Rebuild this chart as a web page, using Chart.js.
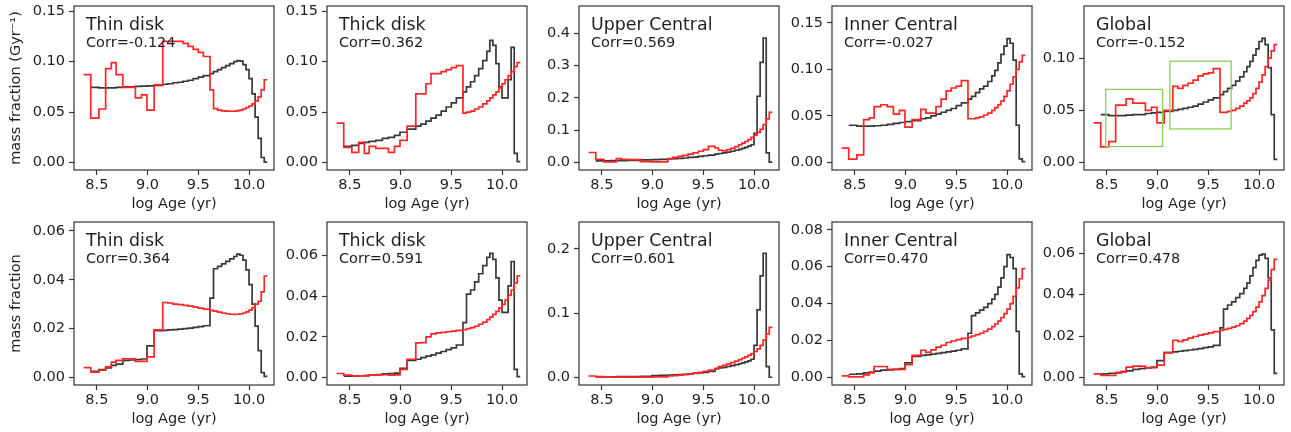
<!DOCTYPE html>
<html>
<head>
<meta charset="utf-8">
<script src="https://cdn.jsdelivr.net/npm/chart.js@4.4.1/dist/chart.umd.min.js"></script>
<style>
  html, body { margin: 0; padding: 0; background: #ffffff; }
  #fig { position: relative; width: 1291px; height: 432px; overflow: hidden; background: #ffffff; }
  #fig canvas { position: absolute; }
</style>
</head>
<body>
<div id="fig"></div>
<script>
// ---- age bins (log age, yr): left edges plus the final right edge ----
const AGE_EDGES = [8.37, 8.44, 8.52, 8.587, 8.643, 8.69, 8.756, 8.82, 8.88, 8.94,
  8.994, 9.065, 9.15, 9.20, 9.25, 9.30, 9.35, 9.40, 9.45, 9.50,
  9.55, 9.615, 9.65, 9.69, 9.73, 9.77, 9.81, 9.85, 9.88, 9.91,
  9.94, 9.97, 10.00, 10.03, 10.06, 10.09, 10.12, 10.15, 10.18];

const X_TICKS = [8.5, 9.0, 9.5, 10.0];
const REGION_NAMES = ['Thin disk', 'Thick disk', 'Upper Central', 'Inner Central', 'Global'];
const CORR_RATE = [-0.124, 0.362, 0.569, -0.027, -0.152];
const CORR_FRACTION = [0.364, 0.591, 0.601, 0.470, 0.478];

// ---- mass fraction per Gyr (upper row) ----
const thinRateRed = [0.087, 0.044, 0.053, 0.093, 0.099, 0.087, 0.0745, 0.0745, 0.064, 0.067,
  0.052, 0.077, 0.120, 0.120, 0.120, 0.120, 0.118, 0.115, 0.112, 0.109,
  0.105, 0.072, 0.0534, 0.052, 0.0512, 0.051, 0.0508, 0.051, 0.0515, 0.052,
  0.053, 0.0545, 0.056, 0.058, 0.061, 0.065, 0.072, 0.082];
const thinRateBlack = [null, 0.0745, 0.074, 0.074, 0.074, 0.0745, 0.075, 0.075, 0.0755, 0.0757,
  0.076, 0.0765, 0.0775, 0.078, 0.079, 0.0795, 0.0805, 0.0815, 0.083, 0.0845,
  0.086, 0.088, 0.090, 0.092, 0.094, 0.096, 0.098, 0.100, 0.101, 0.1005,
  0.097, 0.092, 0.083, 0.068, 0.045, 0.024, 0.005, 0.0005];

const thickRateRed = [0.039, 0.015, 0.010, 0.020, 0.009, 0.016, 0.014, 0.014, 0.010, 0.016,
  0.022, 0.036, 0.068, 0.068, 0.078, 0.088, 0.088, 0.090, 0.092, 0.094,
  0.096, 0.049, 0.050, 0.051, 0.053, 0.055, 0.058, 0.061, 0.064, 0.067,
  0.070, 0.074, 0.078, 0.082, 0.086, 0.090, 0.095, 0.099];
const thickRateBlack = [null, 0.016, 0.017, 0.019, 0.020, 0.021, 0.022, 0.024, 0.025, 0.027,
  0.030, 0.033, 0.036, 0.038, 0.041, 0.044, 0.047, 0.051, 0.055, 0.059,
  0.064, 0.070, 0.075, 0.080, 0.086, 0.093, 0.101, 0.110, 0.121, 0.116,
  0.098, 0.075, 0.064, 0.064, 0.082, 0.114, 0.009, 0.001];

const upperRateRed = [0.031, 0.010, 0.002, 0.002, 0.012, 0.010, 0.009, 0.009, 0.003, 0.003,
  0.002, 0.002, 0.012, 0.016, 0.019, 0.022, 0.026, 0.030, 0.035, 0.040,
  0.050, 0.045, 0.038, 0.036, 0.040, 0.044, 0.049, 0.055, 0.060, 0.065,
  0.071, 0.078, 0.085, 0.093, 0.103, 0.117, 0.135, 0.155];
const upperRateBlack = [null, 0.005, 0.005, 0.006, 0.006, 0.006, 0.007, 0.007, 0.008, 0.008,
  0.009, 0.010, 0.011, 0.012, 0.013, 0.014, 0.016, 0.017, 0.019, 0.021,
  0.023, 0.026, 0.028, 0.030, 0.032, 0.035, 0.038, 0.041, 0.044, 0.047,
  0.051, 0.055, 0.090, 0.205, 0.310, 0.385, 0.030, 0.001];

const innerRateRed = [0.0155, 0.0036, 0.0083, 0.046, 0.048, 0.060, 0.062, 0.060, 0.052, 0.056,
  0.038, 0.046, 0.057, 0.053, 0.053, 0.060, 0.068, 0.077, 0.080, 0.082,
  0.088, 0.047, 0.047, 0.048, 0.049, 0.051, 0.053, 0.056, 0.059, 0.062,
  0.066, 0.071, 0.077, 0.084, 0.092, 0.100, 0.108, 0.115];
const innerRateBlack = [null, 0.040, 0.039, 0.039, 0.039, 0.0395, 0.040, 0.041, 0.042, 0.043,
  0.044, 0.045, 0.047, 0.048, 0.050, 0.052, 0.054, 0.056, 0.058, 0.061,
  0.064, 0.068, 0.071, 0.075, 0.079, 0.082, 0.087, 0.093, 0.099, 0.107,
  0.116, 0.125, 0.133, 0.128, 0.110, 0.040, 0.004, 0.001];

const globalRateRed = [0.038, 0.015, 0.020, 0.055, 0.055, 0.061, 0.057, 0.057, 0.050, 0.053,
  0.038, 0.050, 0.073, 0.071, 0.074, 0.076, 0.079, 0.083, 0.085, 0.086,
  0.090, 0.048, 0.048, 0.049, 0.050, 0.052, 0.054, 0.057, 0.059, 0.062,
  0.066, 0.071, 0.077, 0.084, 0.092, 0.100, 0.107, 0.113];
const globalRateBlack = [null, 0.046, 0.045, 0.045, 0.045, 0.0455, 0.046, 0.046, 0.047, 0.0475,
  0.048, 0.049, 0.050, 0.051, 0.052, 0.053, 0.054, 0.056, 0.058, 0.060,
  0.062, 0.065, 0.068, 0.071, 0.074, 0.078, 0.082, 0.087, 0.092, 0.097,
  0.103, 0.109, 0.116, 0.119, 0.113, 0.091, 0.046, 0.003];

// highlighted age / rate windows in the global panel: [age0, age1, y0, y1]
const GLOBAL_WINDOWS = [[8.489, 9.050, 0.0154, 0.0701], [9.122, 9.725, 0.0322, 0.0971]];

// ---- mass fraction (lower row) ----
const thinFracRed = [0.0041, 0.0022, 0.0030, 0.0044, 0.0063, 0.0070, 0.0077, 0.0077, 0.0066, 0.0066,
  0.0085, 0.0195, 0.0307, 0.0305, 0.0300, 0.0298, 0.0295, 0.0292, 0.0288, 0.0284,
  0.0280, 0.0275, 0.0272, 0.0268, 0.0264, 0.0261, 0.0259, 0.0258, 0.0259, 0.0261,
  0.0264, 0.0269, 0.0276, 0.0286, 0.0300, 0.0312, 0.0350, 0.0415];
const thinFracBlack = [null, 0.0025, 0.0033, 0.0040, 0.0050, 0.0055, 0.0070, 0.0072, 0.0074, 0.0076,
  0.0130, 0.0192, 0.0193, 0.0195, 0.0196, 0.0198, 0.0200, 0.0202, 0.0205, 0.0208,
  0.0212, 0.0325, 0.0445, 0.0455, 0.0465, 0.0475, 0.0485, 0.0495, 0.0505, 0.0500,
  0.0480, 0.0440, 0.0380, 0.0300, 0.0210, 0.0110, 0.0020, 0.0005];

const thickFracRed = [0.0020, 0.0012, 0.0008, 0.0008, 0.0010, 0.0012, 0.0013, 0.0014, 0.0012, 0.0013,
  0.0040, 0.0090, 0.0170, 0.0172, 0.0200, 0.0215, 0.0220, 0.0222, 0.0225, 0.0228,
  0.0232, 0.0235, 0.0240, 0.0245, 0.0252, 0.0262, 0.0272, 0.0285, 0.0297, 0.0310,
  0.0325, 0.0342, 0.0360, 0.0380, 0.0405, 0.0430, 0.0465, 0.0500];
const thickFracBlack = [null, 0.0007, 0.0008, 0.0009, 0.0010, 0.0012, 0.0015, 0.0018, 0.0020, 0.0022,
  0.0045, 0.0085, 0.0090, 0.0098, 0.0105, 0.0112, 0.0120, 0.0128, 0.0137, 0.0146,
  0.0160, 0.0270, 0.0410, 0.0430, 0.0470, 0.0510, 0.0550, 0.0590, 0.0610, 0.0580,
  0.0490, 0.0380, 0.0320, 0.0320, 0.0450, 0.0570, 0.0040, 0.0005];

const upperFracRed = [0.0025, 0.0015, 0.0010, 0.0008, 0.0008, 0.0008, 0.0008, 0.0008, 0.0008, 0.0008,
  0.0010, 0.0012, 0.0025, 0.0030, 0.0038, 0.0046, 0.0056, 0.0068, 0.0082, 0.0098,
  0.0118, 0.0145, 0.0170, 0.0190, 0.0210, 0.0232, 0.0255, 0.0280, 0.0300, 0.0320,
  0.0345, 0.0372, 0.0405, 0.0445, 0.0500, 0.0580, 0.0680, 0.0780];
const upperFracBlack = [null, 0.0010, 0.0012, 0.0013, 0.0014, 0.0015, 0.0016, 0.0017, 0.0018, 0.0019,
  0.0030, 0.0035, 0.0040, 0.0043, 0.0047, 0.0052, 0.0058, 0.0064, 0.0072, 0.0082,
  0.0095, 0.0135, 0.0150, 0.0160, 0.0172, 0.0185, 0.0200, 0.0215, 0.0228, 0.0243,
  0.0260, 0.0285, 0.0500, 0.1050, 0.1580, 0.1930, 0.0170, 0.0005];

const innerFracRed = [0.0009, 0.0004, 0.0004, 0.0015, 0.0025, 0.0060, 0.0060, 0.0045, 0.0045, 0.0045,
  0.0070, 0.0120, 0.0148, 0.0136, 0.0150, 0.0165, 0.0175, 0.0190, 0.0198, 0.0205,
  0.0212, 0.0218, 0.0225, 0.0232, 0.0240, 0.0250, 0.0262, 0.0276, 0.0290, 0.0306,
  0.0325, 0.0346, 0.0370, 0.0400, 0.0440, 0.0485, 0.0535, 0.0590];
const innerFracBlack = [null, 0.0018, 0.0020, 0.0025, 0.0030, 0.0035, 0.0040, 0.0042, 0.0045, 0.0048,
  0.0080, 0.0115, 0.0120, 0.0123, 0.0127, 0.0131, 0.0135, 0.0139, 0.0143, 0.0148,
  0.0155, 0.0240, 0.0335, 0.0350, 0.0365, 0.0380, 0.0400, 0.0425, 0.0450, 0.0490,
  0.0540, 0.0600, 0.0665, 0.0650, 0.0590, 0.0250, 0.0020, 0.0005];

const globalFracRed = [0.0018, 0.0010, 0.0010, 0.0025, 0.0030, 0.0050, 0.0055, 0.0055, 0.0048, 0.0048,
  0.0060, 0.0120, 0.0180, 0.0175, 0.0182, 0.0190, 0.0198, 0.0205, 0.0210, 0.0216,
  0.0222, 0.0228, 0.0232, 0.0237, 0.0243, 0.0250, 0.0260, 0.0272, 0.0285, 0.0300,
  0.0318, 0.0340, 0.0365, 0.0395, 0.0430, 0.0470, 0.0520, 0.0570];
const globalFracBlack = [null, 0.0018, 0.0020, 0.0023, 0.0028, 0.0032, 0.0040, 0.0043, 0.0047, 0.0050,
  0.0082, 0.0120, 0.0124, 0.0127, 0.0130, 0.0133, 0.0136, 0.0140, 0.0144, 0.0148,
  0.0155, 0.0240, 0.0330, 0.0350, 0.0365, 0.0385, 0.0405, 0.0430, 0.0455, 0.0490,
  0.0530, 0.0565, 0.0590, 0.0595, 0.0575, 0.0480, 0.0230, 0.0020];

// ---- axis ranges and ticks ----
const X_MIN = 8.275, X_MAX = 10.246;
const RATE_Y_MAX = [0.155, 0.155, 0.484, 0.168, 0.150];
const FRAC_Y_MAX = [0.0636, 0.0764, 0.2415, 0.0842, 0.075];
const RATE_Y_TICKS = [[0, 0.05, 0.10, 0.15], [0, 0.05, 0.10, 0.15], [0, 0.1, 0.2, 0.3, 0.4], [0, 0.05, 0.10, 0.15], [0, 0.05, 0.10]];
const FRAC_Y_TICKS = [[0, 0.02, 0.04, 0.06], [0, 0.02, 0.04, 0.06], [0, 0.1, 0.2], [0, 0.02, 0.04, 0.06, 0.08], [0, 0.02, 0.04, 0.06]];

const ROWS = [
  { red: [thinRateRed, thickRateRed, upperRateRed, innerRateRed, globalRateRed],
    black: [thinRateBlack, thickRateBlack, upperRateBlack, innerRateBlack, globalRateBlack],
    corr: CORR_RATE, yMax: RATE_Y_MAX, yTicks: RATE_Y_TICKS, yTitle: 'mass fraction (Gyr\u207B\u00B9)' },
  { red: [thinFracRed, thickFracRed, upperFracRed, innerFracRed, globalFracRed],
    black: [thinFracBlack, thickFracBlack, upperFracBlack, innerFracBlack, globalFracBlack],
    corr: CORR_FRACTION, yMax: FRAC_Y_MAX, yTicks: FRAC_Y_TICKS, yTitle: 'mass fraction' }
];

// ---- page geometry ----
const COL_LEFT = [74, 327, 579, 832, 1084];
const ROW_TOP = [6, 222];
const ROW_H = [164, 163];
const BOX_W = 200;
const PAD_L = 74, PAD_T = 6, PAD_R = 8, PAD_B = 46;

const FONT = 'DejaVu Sans';
const TEXT = '#1f1f1f';
const RED = '#ff2525';
const BLACK = '#383838';
const GREEN = '#86cf55';

// step outline: each bin value held from its left edge to the next edge
function stepPoints(values) {
  const pts = [];
  let last = null;
  values.forEach((v, i) => {
    if (v === null) return;
    pts.push({ x: AGE_EDGES[i], y: v });
    last = v;
  });
  pts.push({ x: AGE_EDGES[values.length], y: last });
  return pts;
}

const panelDecor = {
  id: 'panelDecor',
  afterDatasetsDraw(chart, args, opts) {
    const { ctx, chartArea: a, scales: { x, y } } = chart;
    ctx.save();
    (opts.windows || []).forEach(w => {
      const l = x.getPixelForValue(w[0]), r = x.getPixelForValue(w[1]);
      const t = y.getPixelForValue(w[3]), b = y.getPixelForValue(w[2]);
      ctx.strokeStyle = GREEN;
      ctx.lineWidth = 1.3;
      ctx.strokeRect(l, t, r - l, b - t);
    });
    ctx.strokeStyle = '#333333';
    ctx.lineWidth = 1.2;
    ctx.strokeRect(a.left, a.top, a.right - a.left, a.bottom - a.top);
    ctx.fillStyle = TEXT;
    ctx.textAlign = 'left';
    ctx.textBaseline = 'alphabetic';
    ctx.font = '17.4px "' + FONT + '"';
    ctx.fillText(opts.name, a.left + 12, a.top + 24);
    ctx.font = '14.5px "' + FONT + '"';
    ctx.fillText(opts.corr, a.left + 12, a.top + 40.5);
    ctx.restore();
  }
};

const fig = document.getElementById('fig');

ROWS.forEach((row, r) => {
  COL_LEFT.forEach((left, c) => {
    const w = PAD_L + BOX_W + PAD_R;
    const h = PAD_T + ROW_H[r] + PAD_B;
    const canvas = document.createElement('canvas');
    canvas.width = w; canvas.height = h;
    canvas.style.width = w + 'px'; canvas.style.height = h + 'px';
    canvas.style.left = (left - PAD_L) + 'px';
    canvas.style.top = (ROW_TOP[r] - PAD_T) + 'px';
    fig.appendChild(canvas);

    const yMax = row.yMax[c];
    const yMin = -yMax * 0.05 / 1.05;
    const ticks = row.yTicks[c];
    const decimals = (ticks[1] - ticks[0]) < 0.099 ? 2 : 1;
    const corr = row.corr[c];

    new Chart(canvas, {
      type: 'line',
      data: {
        datasets: [
          { data: stepPoints(row.red[c]), borderColor: RED, borderWidth: 1.7, stepped: true,
            pointRadius: 0, fill: false, tension: 0 },
          { data: stepPoints(row.black[c]), borderColor: BLACK, borderWidth: 1.7, stepped: true,
            pointRadius: 0, fill: false, tension: 0 }
        ]
      },
      options: {
        responsive: false,
        animation: false,
        devicePixelRatio: 1,
        events: [],
        layout: { padding: { top: PAD_T, right: PAD_R, left: 0, bottom: 0 } },
        plugins: {
          legend: { display: false },
          tooltip: { enabled: false },
          panelDecor: {
            name: REGION_NAMES[c],
            corr: 'Corr=' + corr.toFixed(3),
            windows: (r === 0 && c === 4) ? GLOBAL_WINDOWS : []
          }
        },
        scales: {
          x: {
            type: 'linear',
            min: X_MIN, max: X_MAX,
            afterBuildTicks: s => { s.ticks = X_TICKS.map(v => ({ value: v })); },
            afterFit: s => { s.height = PAD_B; s.paddingLeft = 0; s.paddingRight = 0; },
            border: { display: false },
            grid: { drawOnChartArea: false, drawTicks: true, tickLength: 5, tickColor: '#333333', tickWidth: 1.2 },
            ticks: { autoSkip: false, maxRotation: 0, minRotation: 0, padding: 2, color: TEXT,
              font: { family: FONT, size: 14.5 }, callback: v => Number(v).toFixed(1) },
            title: { display: true, text: 'log Age (yr)', color: TEXT,
              font: { family: FONT, size: 14.5 }, padding: { top: 0, bottom: 3 } }
          },
          y: {
            type: 'linear',
            min: yMin, max: yMax,
            afterBuildTicks: s => { s.ticks = ticks.map(v => ({ value: v })); },
            afterFit: s => { s.width = PAD_L; s.paddingTop = 0; s.paddingBottom = 0; },
            border: { display: false },
            grid: { drawOnChartArea: false, drawTicks: true, tickLength: 5, tickColor: '#333333', tickWidth: 1.2 },
            ticks: { autoSkip: false, padding: 4, color: TEXT,
              font: { family: FONT, size: 14.5 }, callback: v => Number(v).toFixed(decimals) },
            title: { display: c === 0, text: row.yTitle, color: TEXT,
              font: { family: FONT, size: 14.5 }, padding: { top: 8, bottom: 0 } }
          }
        }
      },
      plugins: [panelDecor]
    });
  });
});
</script>
</body>
</html>
